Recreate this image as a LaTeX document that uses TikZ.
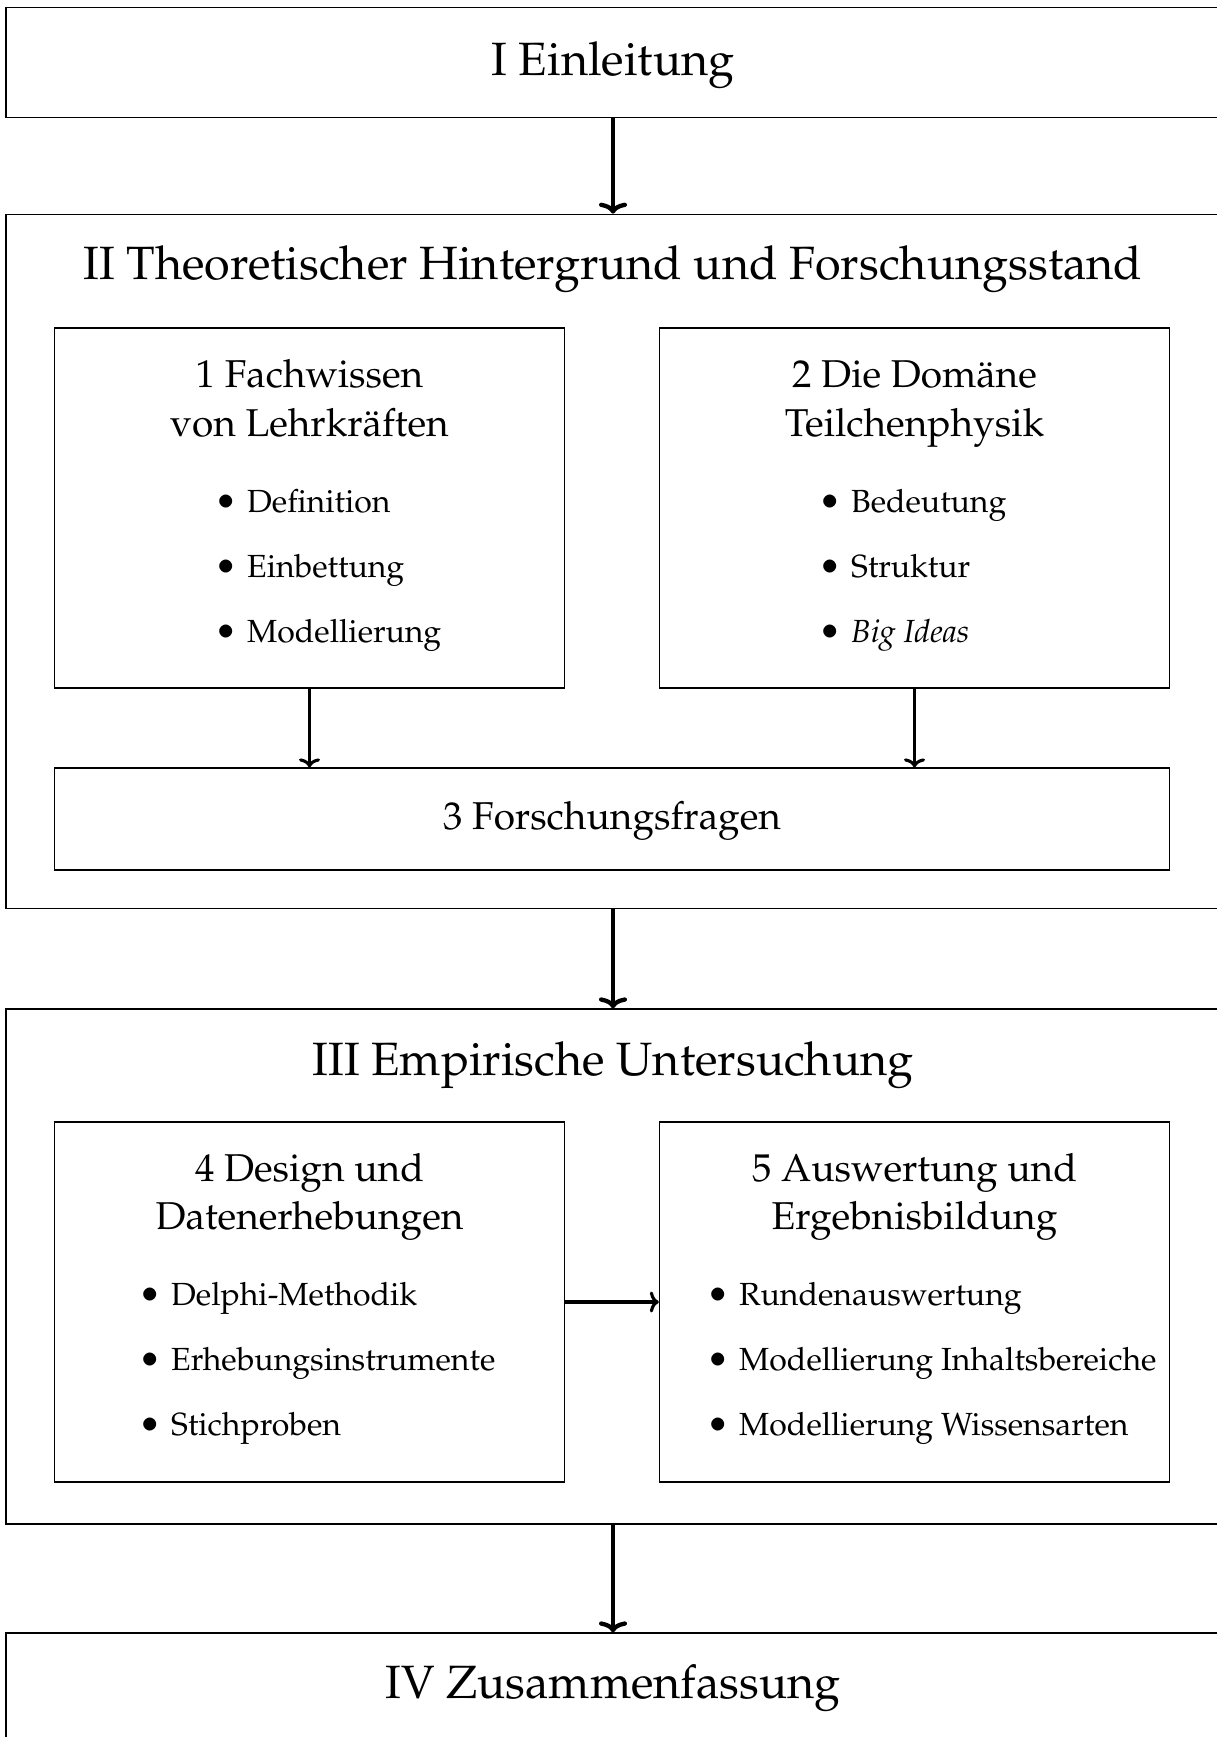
\documentclass[tikz,border=0pt]{standalone}
\usepackage[T1]{fontenc}
\usepackage{mathpazo}
\usepackage{graphicx}
\usetikzlibrary{arrows.meta}
\newcommand\ttlfnt{\fontsize{46.7}{56}\selectfont}
\newcommand\subfnt{\fontsize{38.8}{48}\selectfont}
\newcommand\itmfnt{\fontsize{32}{39}\selectfont}
\newcommand\bul{\llap{\raisebox{-2.5pt}{\scalebox{1.18}{\textbullet}}\hspace{10pt}}}
\tikzset{
  frame/.style={draw, line width=1.3pt, inner sep=0pt},
  bigarrow/.style={-{To[length=11pt, width=28pt]}, line width=4.3pt},
  smallarrow/.style={-{To[length=9pt, width=21pt]}, line width=3.1pt},
  ttl/.style={anchor=base, inner sep=0pt, font=\ttlfnt},
  subttl/.style={anchor=base, inner sep=0pt, font=\subfnt},
  itm/.style={anchor=base west, inner sep=0pt, font=\itmfnt},
}
\begin{document}
\begin{tikzpicture}[x=1pt, y=-1pt]
\useasboundingbox (0,0) rectangle (1217,1737);
% outer boxes
\node[frame, minimum width=1214pt, minimum height=110pt] (B1) at (613,62.3) {};
\node[frame, minimum width=1214pt, minimum height=694.2pt] (B2) at (613,561.4) {};
\node[frame, minimum width=1214pt, minimum height=515pt] (B3) at (613,1266.5) {};
\node[frame, minimum width=1214pt, minimum height=114pt] (B4) at (613,1690) {};
% inner boxes
\node[frame, minimum width=510pt, minimum height=360pt] (S1) at (309.5,508) {};
\node[frame, minimum width=510pt, minimum height=360pt] (S2) at (914.5,508) {};
\node[frame, minimum width=1115pt, minimum height=102pt] (S3) at (612,819) {};
\node[frame, minimum width=510pt, minimum height=360pt] (S4) at (309.5,1302) {};
\node[frame, minimum width=510pt, minimum height=360pt] (S5) at (914.5,1302) {};
% titles
\node[ttl] (T1) at (613,76) {I Einleitung};
\node[ttl] (T2) at (613,279) {II Theoretischer Hintergrund und Forschungsstand};
\node[ttl] (T3) at (613,1075) {III Empirische Untersuchung};
\node[ttl] (T4) at (613,1698) {IV Zusammenfassung};
% box 1
\node[subttl] (S1a) at (309.5,387) {1 Fachwissen};
\node[subttl] (S1b) at (309.5,436) {von Lehrkr\"aften};
\node[itm] (S1i1) at (247,512) {\bul Definition};
\node[itm] (S1i2) at (247,577) {\bul Einbettung};
\node[itm] (S1i3) at (247,642) {\bul Modellierung};
% box 2
\node[subttl] (S2a) at (914.5,387) {2 Die Dom\"ane};
\node[subttl] (S2b) at (914.5,436) {Teilchenphysik};
\node[itm] (S2i1) at (851,512) {\bul Bedeutung};
\node[itm] (S2i2) at (851,577) {\bul Struktur};
\node[itm] (S2i3) at (851,642) {\bul \textit{Big Ideas}};
% box 3
\node[subttl] (S3a) at (612,829) {3 Forschungsfragen};
% box 4
\node[subttl] (S4a) at (309.5,1181) {4 Design und};
\node[subttl] (S4b) at (309.5,1229) {Datenerhebungen};
\node[itm] (S4i1) at (171,1305) {\bul Delphi-Methodik};
\node[itm] (S4i2) at (171,1370) {\bul Erhebungsinstrumente};
\node[itm] (S4i3) at (171,1435) {\bul Stichproben};
% box 5
\node[subttl] (S5a) at (914.5,1181) {5 Auswertung und};
\node[subttl] (S5b) at (914.5,1229) {Ergebnisbildung};
\node[itm] (S5i1) at (739,1305) {\bul Rundenauswertung};
\node[itm] (S5i2) at (739,1370) {\bul Modellierung Inhaltsbereiche};
\node[itm] (S5i3) at (739,1435) {\bul Modellierung Wissensarten};
% arrows
\draw[bigarrow] (B1.south) -- (B2.north);
\draw[bigarrow] (B2.south) -- (B3.north);
\draw[bigarrow] (B3.south) -- (B4.north);
\draw[smallarrow] (S1.south) -- (S1.south |- S3.north);
\draw[smallarrow] (S2.south) -- (S2.south |- S3.north);
\draw[smallarrow] (S4.east) -- (S5.west);
\end{tikzpicture}
\end{document}
